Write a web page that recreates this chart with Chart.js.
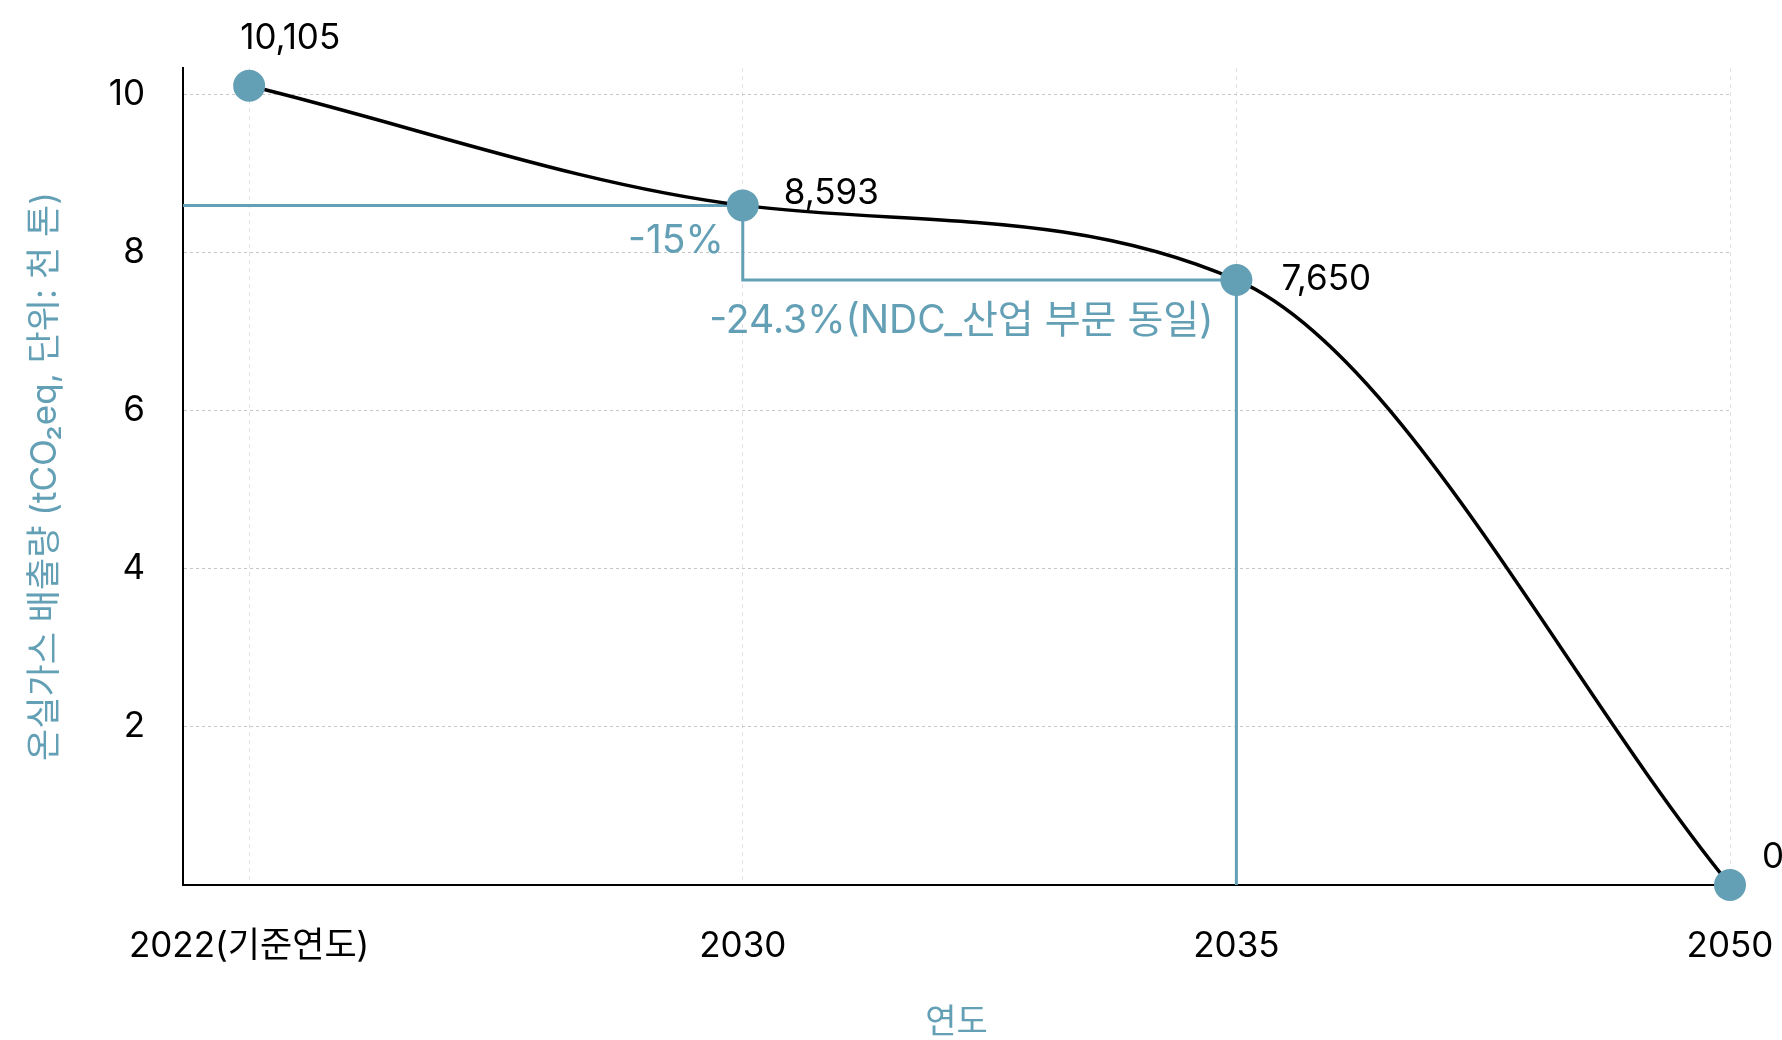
<!DOCTYPE html>
<html lang="ko">
<head>
<meta charset="utf-8">
<title>온실가스 배출량 감축 경로</title>
<script src="https://cdn.jsdelivr.net/npm/chart.js@4.4.1/dist/chart.umd.min.js"></script>
<style>
  html, body { margin: 0; padding: 0; background: #fff; }
  #wrap { width: 1782px; height: 1040px; }
</style>
</head>
<body>
<div id="wrap"><canvas id="chart"></canvas></div>
<script>
// 연도별 배출량 (단위: 천 톤)
const years = ["2022(기준연도)", "2030", "2035", "2050"]
const emissions = [10.105, 8.593, 7.65, 0]
const valueLabels = ["10,105", "8,593", "7,650", "0"]
const yTicks = [0, 2, 4, 6, 8, 10]
const reductionLabels = ["-15%", "-24.3%(NDC_산업 부문 동일)"]

const BLUE = "#64a0b5"
const FONT = "Inter, 'Noto Sans CJK KR', sans-serif"
Chart.defaults.font.family = FONT

// 2030/2035 감축 기준선 + 라벨
const stepLines = {
  id: "stepLines",
  beforeDatasetsDraw(chart) {
    const {ctx, chartArea, scales: {x, y}} = chart
    const x30 = x.getPixelForValue(1)
    const x35 = x.getPixelForValue(2)
    const y30 = y.getPixelForValue(emissions[1])
    const y35 = y.getPixelForValue(emissions[2])
    ctx.save()
    ctx.strokeStyle = BLUE
    ctx.lineWidth = 3
    ctx.beginPath()
    ctx.moveTo(chartArea.left, y30)
    ctx.lineTo(x30, y30)
    ctx.lineTo(x30, y35)
    ctx.lineTo(x35, y35)
    ctx.lineTo(x35, y.getPixelForValue(0))
    ctx.stroke()

    ctx.fillStyle = BLUE
    ctx.font = `39px ${FONT}`
    ctx.textAlign = "right"
    ctx.textBaseline = "middle"
    ctx.fillText(reductionLabels[0], x30 - 19, y30 + 36)
    ctx.fillText(reductionLabels[1], x35 - 23, y35 + 41)
    ctx.restore()
  }
}

// 점 옆 값 라벨
const valueTags = {
  id: "valueTags",
  afterDatasetsDraw(chart) {
    const {ctx} = chart
    const pts = chart.getDatasetMeta(0).data
    const offs = [[-9, -47], [41, -12], [45, 0], [32, -28]]
    ctx.save()
    ctx.fillStyle = "#000"
    ctx.font = `35px ${FONT}`
    ctx.textAlign = "left"
    ctx.textBaseline = "middle"
    pts.forEach((p, i) => {
      ctx.fillText(valueLabels[i], p.x + offs[i][0], p.y + offs[i][1])
    })
    ctx.restore()
  }
}

new Chart(document.getElementById("chart"), {
  type: "line",
  data: {
    datasets: [{
      data: emissions.map((v, i) => ({x: i, y: v})),
      borderColor: "#000",
      borderWidth: 3.5,
      cubicInterpolationMode: "monotone",
      pointRadius: 16,
      pointHoverRadius: 16,
      pointBackgroundColor: BLUE,
      pointBorderWidth: 0,
      clip: false
    }]
  },
  options: {
    responsive: true,
    maintainAspectRatio: false,
    animation: false,
    events: [],
    layout: {padding: {top: 68, right: 52, left: 0, bottom: 0}},
    plugins: {legend: {display: false}, tooltip: {enabled: false}},
    scales: {
      x: {
        type: "linear",
        min: -0.134,
        max: years.length - 1,
        afterBuildTicks: s => { s.ticks = years.map((_, i) => ({value: i})) },
        afterFit: s => { s.height = 155; s.paddingLeft = 0; s.paddingRight = 0 },
        ticks: {
          callback: v => years[v],
          color: "#000",
          font: {size: 35},
          padding: 40,
          maxRotation: 0,
          autoSkip: false
        },
        border: {color: "#000", width: 2, dash: [4, 4]},
        grid: {color: "#e2e2e2", lineWidth: 1, drawTicks: false},
        title: {display: true, text: "연도", color: BLUE, font: {size: 34, lineHeight: 1}, padding: {top: 0, bottom: 0}}
      },
      y: {
        min: 0,
        max: 10.33,
        afterBuildTicks: s => { s.ticks = yTicks.map(v => ({value: v})) },
        afterFit: s => { s.width = 183 },
        ticks: {
          callback: v => v === 0 ? "" : v,
          color: "#000",
          font: {size: 35},
          padding: 38
        },
        border: {color: "#000", width: 2, dash: [3, 3]},
        grid: {color: "#c6c6c6", lineWidth: 1, drawTicks: false},
        title: {display: true, text: "온실가스 배출량 (tCO₂eq, 단위: 천 톤)", color: BLUE, font: {size: 35}, padding: {top: 24, bottom: 0}}
      }
    }
  },
  plugins: [stepLines, valueTags]
})
</script>
</body>
</html>
